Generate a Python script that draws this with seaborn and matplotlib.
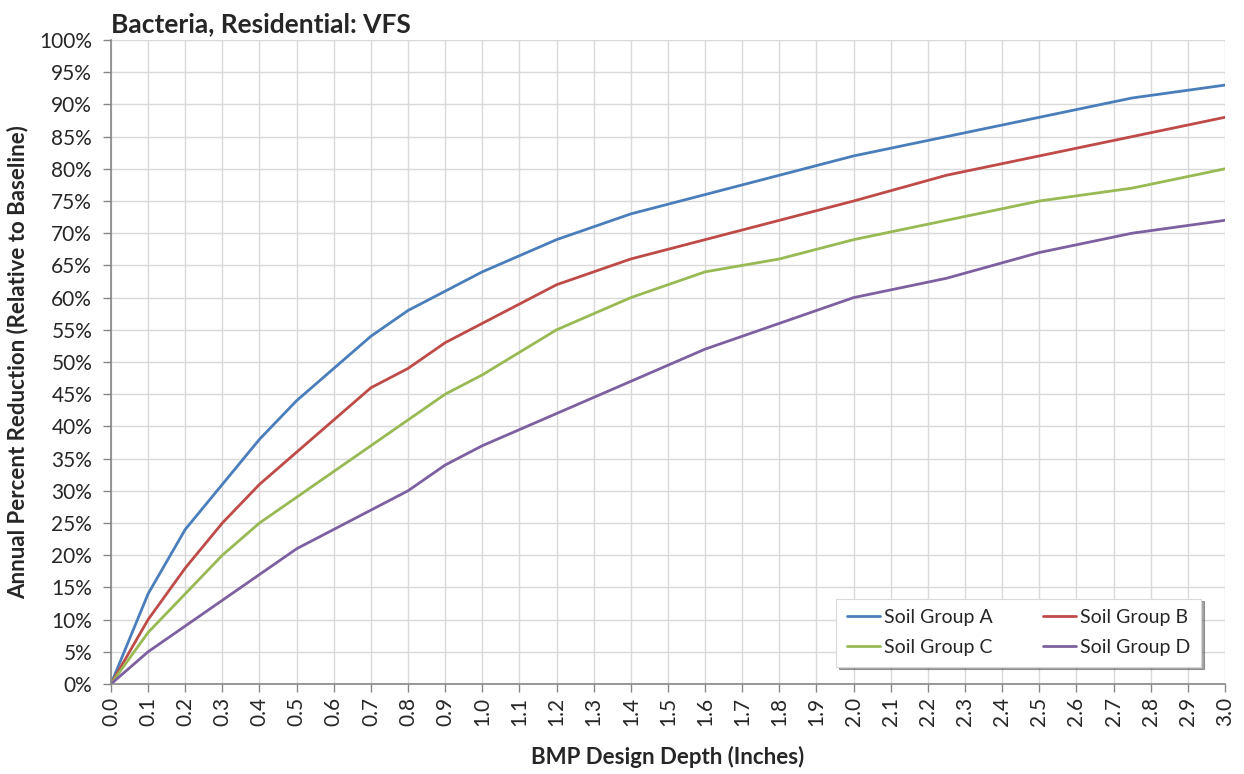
import matplotlib.pyplot as plt
import matplotlib.ticker as mticker
import numpy as np
import pandas as pd
import seaborn as sns

# design depth (inches) and annual percent reduction per soil group
depth = [0.0, 0.1, 0.2, 0.3, 0.4, 0.5, 0.6, 0.7, 0.8, 0.9, 1.0,
         1.2, 1.4, 1.6, 1.8, 2.0, 2.25, 2.5, 2.75, 3.0]
soil_a = [0, 14, 24, 31, 38, 44, 49, 54, 58, 61, 64, 69, 73, 76, 79, 82, 85, 88, 91, 93]
soil_b = [0, 10, 18, 25, 31, 36, 41, 46, 49, 53, 56, 62, 66, 69, 72, 75, 79, 82, 85, 88]
soil_c = [0, 8, 14, 20, 25, 29, 33, 37, 41, 45, 48, 55, 60, 64, 66, 69, 72, 75, 77, 80]
soil_d = [0, 5, 9, 13, 17, 21, 24, 27, 30, 34, 37, 42, 47, 52, 56, 60, 63, 67, 70, 72]
groups = ['Soil Group A', 'Soil Group B', 'Soil Group C', 'Soil Group D']
colors = ['#4A7EBB', '#BE4B48', '#98B954', '#7D60A0']

df = pd.concat([
    pd.DataFrame({'depth': depth, 'pct': vals, 'group': g})
    for g, vals in zip(groups, [soil_a, soil_b, soil_c, soil_d])
])
df['pct'] = df['pct'] / 100.0

sns.set_theme(style='whitegrid')
plt.rcParams['font.family'] = ['Lato', 'DejaVu Sans']

fig = plt.figure(figsize=(12.44, 7.74), dpi=100)
ax = fig.add_axes([0.0892, 0.1163, 0.8955, 0.832])

sns.lineplot(data=df, x='depth', y='pct', hue='group', palette=colors,
             linewidth=2, ax=ax, legend=False)

ax.set_xlim(0, 3.0)
ax.set_ylim(0, 1.0)
ax.set_xticks(np.round(np.arange(0, 3.01, 0.1), 1))
ax.set_yticks(np.round(np.arange(0, 1.001, 0.05), 2))
ax.xaxis.set_major_formatter(mticker.FormatStrFormatter('%.1f'))
ax.yaxis.set_major_formatter(mticker.PercentFormatter(1.0, decimals=0))
ax.tick_params(axis='x', labelrotation=90, labelsize=15, length=5.5,
               width=1, color='#868686', direction='out', bottom=True, pad=4)
ax.tick_params(axis='y', labelsize=15, length=5.5, width=1,
               color='#868686', direction='out', left=True, pad=8)
ax.grid(True, color='#D9D9D9', linewidth=1)
ax.set_facecolor('white')
for side in ['top', 'right']:
    ax.spines[side].set_visible(False)
for side in ['left', 'bottom']:
    ax.spines[side].set_color('#868686')
    ax.spines[side].set_linewidth(1.2)

ax.set_xlabel('BMP Design Depth (Inches)', fontsize=16, fontweight='bold', labelpad=14)
ax.set_ylabel('Annual Percent Reduction (Relative to Baseline)', fontsize=16,
              fontweight='bold', labelpad=8)
ax.set_title('Bacteria, Residential: VFS', fontsize=19, fontweight='bold',
             loc='left', x=0.0, pad=6)

# reorder so the two-column legend reads row by row (A B / C D)
order = [0, 2, 1, 3]
handles = [plt.Line2D([], [], color=colors[i], linewidth=2) for i in order]
labels = [groups[i] for i in order]
leg = ax.legend(handles, labels, ncol=2, loc='lower right',
                bbox_to_anchor=(0.9785, 0.027), borderaxespad=0, fontsize=14,
                frameon=True, fancybox=False, shadow=True, handlelength=1.7,
                handletextpad=0.2, columnspacing=2.6, borderpad=0.55,
                labelspacing=0.65)
leg.get_frame().set_edgecolor('#D9D9D9')
leg.get_frame().set_linewidth(0.8)

fig.savefig('out.png', dpi=100)
